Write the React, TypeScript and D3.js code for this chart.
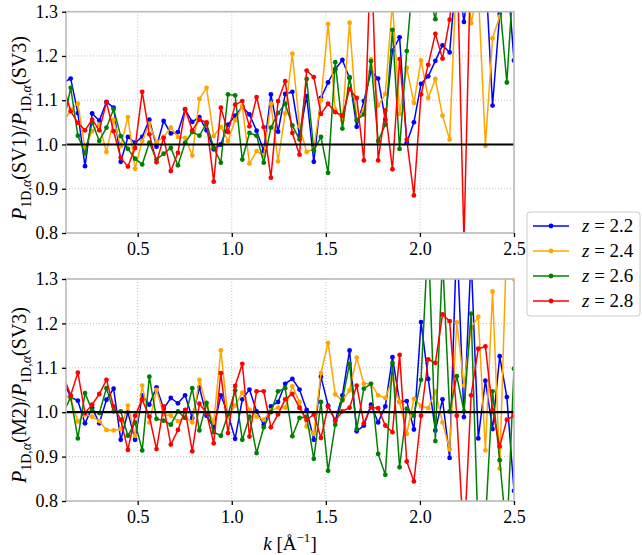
import React, { useRef, useEffect } from 'react';
import * as d3 from 'd3';

// wavenumbers k [1/Angstrom]; the first one sits just left of the x limit and is clipped
const kValues = [
  0.106, 0.144, 0.182, 0.220, 0.258, 0.296, 0.334, 0.372, 0.410, 0.448, 0.486, 0.524, 0.562, 0.600, 0.638, 0.676,
  0.714, 0.752, 0.790, 0.828, 0.866, 0.904, 0.942, 0.980, 1.018, 1.056, 1.094, 1.132, 1.170, 1.208, 1.246, 1.284,
  1.322, 1.360, 1.398, 1.436, 1.474, 1.512, 1.550, 1.588, 1.626, 1.664, 1.702, 1.740, 1.778, 1.816, 1.854, 1.892,
  1.930, 1.968, 2.006, 2.044, 2.082, 2.120, 2.158, 2.196, 2.234, 2.272, 2.310, 2.348, 2.386, 2.424, 2.462, 2.500,
];

// top panel: P(SV1)/P(SV3)
const sv1z22 = [
  1.14, 1.149, 1.071, 0.951, 1.070, 1.054, 1.096, 1.083, 0.961, 1.017, 1.004, 1.017, 1.056, 0.995, 1.053, 1.025,
  1.028, 1.079, 1.051, 1.062, 1.032, 0.989, 1.0, 1.045, 1.065, 1.085, 1.068, 1.031, 0.985, 1.113, 1.029, 1.114,
  1.119, 1.02, 1.109, 0.961, 1.105, 1.14, 1.17, 1.191, 1.15, 1.04, 1.098, 1.165, 1.149, 1.056, 1.212, 1.242,
  1.004, 1.05, 1.137, 1.154, 1.189, 1.224, 1.208, 1.4, 1.277, 1.4, 1.5, 1.4, 1.088, 1.295, 1.4, 1.19,
];
const sv1z24 = [
  1.05, 1.079, 1.092, 0.992, 1.030, 1.045, 0.983, 1.056, 0.996, 1.062, 0.945, 1.008, 1.047, 1.005, 1.017, 1.038,
  1.017, 1.015, 0.975, 1.103, 1.128, 1.019, 1.04, 1.008, 1.055, 1.086, 0.957, 0.985, 0.975, 1.092, 0.962, 1.07,
  1.205, 1.041, 0.983, 0.990, 1.1, 1.272, 1.079, 1.055, 1.275, 1.056, 1.079, 1.192, 1.088, 1.114, 1.32, 1.069,
  1.173, 1.094, 1.19, 1.105, 1.148, 1.065, 1.011, 1.4, 1.45, 1.274, 1.35, 0.997, 1.24, 1.289, 1.4, 1.35,
];
const sv1z26 = [
  1.05, 1.128, 1.02, 0.98, 1.05, 1.008, 1.038, 1.08, 1.019, 0.99, 0.968, 0.955, 1.004, 0.966, 0.979, 0.992,
  0.953, 1.004, 1.028, 1.02, 1.047, 0.993, 0.959, 1.113, 1.111, 0.966, 1.026, 1.02, 0.959, 1.038, 1.071, 1.092,
  1.043, 1.011, 1.148, 0.987, 1.017, 0.936, 1.186, 1.036, 1.152, 1.055, 1.068, 1.188, 1.008, 1.045, 1.259, 0.99,
  1.211, 1.4, 1.45, 1.35, 1.283, 1.4, 1.5, 1.45, 1.4, 1.5, 1.45, 1.4, 1.35, 1.32, 1.14, 1.4,
];
const sv1z28 = [
  1.13, 1.075, 1.049, 1.032, 1.056, 1.032, 1.095, 1.03, 0.97, 0.95, 0.992, 1.119, 1.023, 0.96, 1.015, 0.94,
  0.981, 1.08, 1.032, 1.056, 1.05, 0.916, 1.083, 1.028, 1.09, 1.098, 1.041, 1.107, 1.039, 0.925, 1.098, 1.143,
  1.026, 0.977, 1.167, 1.152, 1.069, 1.092, 1.073, 1.065, 1.125, 1.105, 0.964, 1.45, 0.964, 1.077, 0.944, 1.193,
  1.011, 0.885, 1.113, 1.18, 1.25, 1.194, 1.282, 1.45, 0.78, 1.45, 1.5, 1.45, 1.5, 1.45, 1.5, 1.45,
];

// bottom panel: P(M2)/P(SV3)
const m2z22 = [
  1.07, 1.034, 1.026, 0.975, 1.01, 0.975, 1.028, 1.053, 0.938, 1.0, 0.938, 1.038, 1.017, 1.056, 1.008, 1.032,
  1.02, 1.038, 0.987, 1.056, 0.992, 0.965, 1.038, 0.996, 0.94, 1.029, 1.051, 1.002, 0.972, 1.013, 1.023, 1.064,
  1.075, 1.051, 1.005, 0.938, 1.08, 1.015, 0.981, 1.038, 1.139, 0.957, 0.97, 1.017, 0.977, 1.013, 1.124, 1.023,
  1.025, 0.961, 1.203, 1.075, 0.959, 1.029, 0.897, 1.4, 0.989, 1.35, 0.941, 1.071, 0.962, 1.126, 1.034, 0.823,
];
const m2z24 = [
  1.04, 1.03, 0.979, 0.995, 0.99, 0.98, 0.96, 0.959, 0.962, 1.015, 0.947, 1.06, 0.977, 1.05, 0.995, 0.992,
  0.98, 0.989, 0.977, 1.073, 1.013, 0.977, 1.139, 0.989, 1.015, 1.044, 1.005, 0.99, 0.983, 1.004, 1.01, 1.01,
  1.058, 1.023, 0.968, 0.951, 1.088, 1.156, 1.04, 1.026, 1.049, 1.123, 1.064, 1.064, 1.038, 1.032, 1.074, 1.023,
  0.951, 1.03, 1.014, 1.009, 1.047, 0.977, 0.916, 1.202, 1.06, 1.19, 1.215, 0.914, 1.272, 0.873, 1.4, 1.3,
];
const m2z26 = [
  1.0, 1.034, 0.941, 1.043, 1.004, 0.998, 1.054, 1.002, 1.002, 0.947, 0.977, 0.914, 1.08, 0.985, 0.981, 0.972,
  1.002, 0.987, 1.054, 0.959, 1.021, 0.955, 0.947, 0.995, 1.049, 0.938, 0.99, 0.908, 0.966, 1.0, 1.047, 1.054,
  0.946, 0.987, 0.99, 0.895, 1.023, 0.868, 0.972, 1.028, 1.109, 0.962, 1.053, 1.064, 0.906, 0.859, 1.111, 0.876,
  1.008, 0.992, 1.073, 1.4, 0.935, 1.35, 1.002, 1.081, 1.002, 1.222, 0.72, 0.75, 1.047, 0.892, 0.72, 1.098,
];
const m2z28 = [
  1.08, 1.038, 1.089, 0.998, 1.017, 1.041, 1.073, 1.013, 0.983, 0.915, 0.992, 1.028, 0.99, 0.917, 1.013, 0.927,
  0.96, 1.005, 0.912, 1.019, 0.998, 0.93, 1.088, 0.953, 1.059, 1.109, 0.945, 1.047, 1.047, 0.966, 0.995, 1.029,
  1.041, 1.01, 0.983, 0.995, 0.942, 1.013, 0.981, 1.002, 1.01, 1.06, 0.975, 1.011, 1.009, 0.97, 0.955, 1.129,
  0.889, 0.844, 0.992, 1.119, 1.111, 1.22, 1.205, 0.992, 0.7, 1.038, 1.143, 1.148, 1.004, 0.923, 0.983, 0.992,
];

const redshifts = ['2.2', '2.4', '2.6', '2.8'];
const colors = ['#0000ff', '#ffa500', '#008000', '#ff0000'];
const xTicks = [0.5, 1.0, 1.5, 2.0, 2.5];
const yTicks = [0.8, 0.9, 1.0, 1.1, 1.2, 1.3];

const FONT = '"Liberation Serif", "DejaVu Serif", serif';

const App = () => {
  const svgRef = useRef<SVGSVGElement>(null);

  useEffect(() => {
    const svg = d3.select(svgRef.current);
    svg.selectAll('*').remove();

    const left = 66;
    const right = 514;
    const panels = [
      { top: 11.7, bottom: 233, series: [sv1z22, sv1z24, sv1z26, sv1z28], num: 'SV1', cy: 128 },
      { top: 279, bottom: 501, series: [m2z22, m2z24, m2z26, m2z28], num: 'M2', cy: 395 },
    ];

    const x = d3.scaleLinear().domain([0.119, 2.5]).range([left, right]);

    panels.forEach((p, pi) => {
      const y = d3.scaleLinear().domain([0.8, 1.3]).range([p.bottom, p.top]);
      const g = svg.append('g');
      const clipId = `clip-${pi}`;
      svg.append('clipPath').attr('id', clipId)
        .append('rect')
        .attr('x', left).attr('y', p.top)
        .attr('width', right - left).attr('height', p.bottom - p.top);

      // dotted grid
      g.append('g').selectAll('line').data(xTicks).join('line')
        .attr('x1', d => x(d)).attr('x2', d => x(d))
        .attr('y1', p.top).attr('y2', p.bottom)
        .attr('stroke', '#b0b0b0').attr('stroke-width', 0.8).attr('stroke-dasharray', '1,2');
      g.append('g').selectAll('line').data(yTicks).join('line')
        .attr('x1', left).attr('x2', right)
        .attr('y1', d => y(d)).attr('y2', d => y(d))
        .attr('stroke', '#b0b0b0').attr('stroke-width', 0.8).attr('stroke-dasharray', '1,2');

      // series
      const plot = g.append('g').attr('clip-path', `url(#${clipId})`);
      const line = d3.line<number>().x((_, i) => x(kValues[i])).y(d => y(d));
      p.series.forEach((vals, si) => {
        plot.append('path')
          .datum(vals)
          .attr('d', line)
          .attr('fill', 'none')
          .attr('stroke', colors[si])
          .attr('stroke-width', 1.5);
        plot.append('g').selectAll('circle').data(vals).join('circle')
          .attr('cx', (_, i) => x(kValues[i]))
          .attr('cy', d => y(d))
          .attr('r', 2.4)
          .attr('fill', colors[si]);
      });

      // ratio = 1
      plot.append('line')
        .attr('x1', left).attr('x2', right)
        .attr('y1', y(1)).attr('y2', y(1))
        .attr('stroke', 'black').attr('stroke-width', 2.2);

      // spines
      g.append('rect')
        .attr('x', left).attr('y', p.top)
        .attr('width', right - left).attr('height', p.bottom - p.top)
        .attr('fill', 'none').attr('stroke', '#bbbbbb').attr('stroke-width', 1.6);

      // axes
      const xAxis = g.append('g')
        .attr('transform', `translate(0,${p.bottom})`)
        .call(d3.axisBottom(x).tickValues(xTicks).tickSize(4).tickPadding(5).tickFormat(d3.format('.1f')));
      const yAxis = g.append('g')
        .attr('transform', `translate(${left},0)`)
        .call(d3.axisLeft(y).tickValues(yTicks).tickSize(4).tickPadding(4).tickFormat(d3.format('.1f')));
      [xAxis, yAxis].forEach(a => {
        a.select('.domain').remove();
        a.selectAll('line').attr('stroke', 'black').attr('stroke-width', 1.3);
        a.selectAll('text').attr('font-family', FONT).attr('font-size', 18).attr('fill', 'black');
      });

      // y label
      const yl = svg.append('text')
        .attr('transform', `translate(26,${p.cy}) rotate(-90)`)
        .attr('text-anchor', 'middle')
        .attr('font-family', FONT)
        .attr('font-size', 20)
        .attr('fill', 'black');
      yl.append('tspan').attr('font-style', 'italic').text('P');
      yl.append('tspan').attr('font-size', 14).attr('dy', 5).text('1D,');
      yl.append('tspan').attr('font-size', 14).attr('font-style', 'italic').text('α');
      yl.append('tspan').attr('dy', -5).text(`(${p.num})/`);
      yl.append('tspan').attr('font-style', 'italic').text('P');
      yl.append('tspan').attr('font-size', 14).attr('dy', 5).text('1D,');
      yl.append('tspan').attr('font-size', 14).attr('font-style', 'italic').text('α');
      yl.append('tspan').attr('dy', -5).text('(SV3)');
    });

    // x label
    const xl = svg.append('text')
      .attr('x', 290).attr('y', 550)
      .attr('text-anchor', 'middle')
      .attr('font-family', FONT)
      .attr('font-size', 19)
      .attr('fill', 'black');
    xl.append('tspan').attr('font-style', 'italic').text('k');
    xl.append('tspan').text(' [Å');
    xl.append('tspan').attr('font-size', 13).attr('dy', -8).text('−1');
    xl.append('tspan').attr('dy', 8).text(']');

    // legend
    const lg = svg.append('g');
    lg.append('rect')
      .attr('x', 527).attr('y', 212).attr('width', 113).attr('height', 104)
      .attr('rx', 3).attr('fill', 'white').attr('stroke', '#cccccc').attr('stroke-width', 1);
    redshifts.forEach((z, i) => {
      const cy = 226 + i * 25;
      lg.append('line').attr('x1', 533).attr('x2', 569).attr('y1', cy).attr('y2', cy)
        .attr('stroke', colors[i]).attr('stroke-width', 1.5);
      lg.append('circle').attr('cx', 551).attr('cy', cy).attr('r', 2.4).attr('fill', colors[i]);
      const t = lg.append('text').attr('x', 582).attr('y', cy + 6)
        .attr('font-family', FONT).attr('font-size', 19).attr('fill', 'black');
      t.append('tspan').attr('font-style', 'italic').text('z');
      t.append('tspan').text(` = ${z}`);
    });
  }, []);

  return (
    <svg
      ref={svgRef}
      width={642}
      height={555}
      style={{ position: 'absolute', left: 0, top: 0, background: 'white' }}
    />
  );
};

export default App;
